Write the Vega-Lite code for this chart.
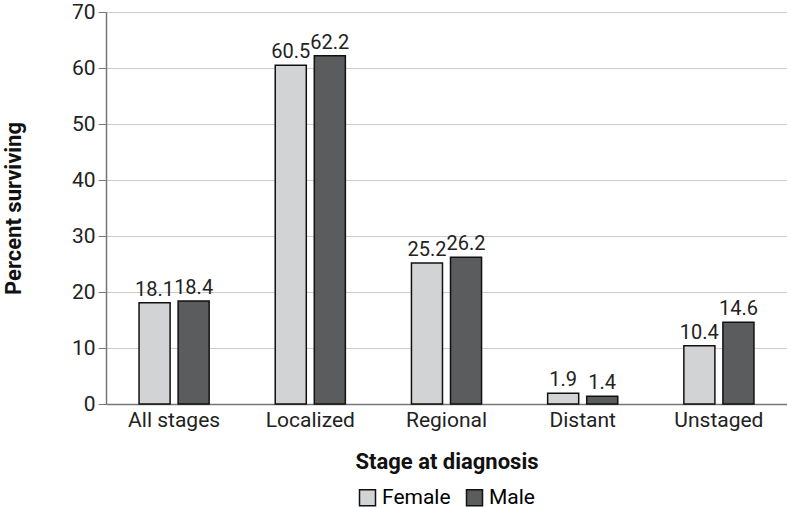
{
  "$schema": "https://vega.github.io/schema/vega-lite/v6.json",
  "autosize": {"type": "none"},
  "padding": {"left": 106, "top": 12, "right": 0, "bottom": 104},
  "width": 681,
  "height": 392,
  "config": {
    "font": "Roboto",
    "view": {"stroke": null},
    "axis": {"labelFont": "Roboto", "titleFont": "Roboto", "labelColor": "#222", "titleColor": "#111"},
    "legend": {"labelFont": "Roboto"}
  },
  "data": {
    "values": [
      {"stage": "All stages", "sex": "Female", "pct": 18.1},
      {"stage": "All stages", "sex": "Male", "pct": 18.4},
      {"stage": "Localized", "sex": "Female", "pct": 60.5},
      {"stage": "Localized", "sex": "Male", "pct": 62.2},
      {"stage": "Regional", "sex": "Female", "pct": 25.2},
      {"stage": "Regional", "sex": "Male", "pct": 26.2},
      {"stage": "Distant", "sex": "Female", "pct": 1.9},
      {"stage": "Distant", "sex": "Male", "pct": 1.4},
      {"stage": "Unstaged", "sex": "Female", "pct": 10.4},
      {"stage": "Unstaged", "sex": "Male", "pct": 14.6}
    ]
  },
  "encoding": {
    "x": {
      "field": "stage", "type": "nominal", "sort": null,
      "scale": {"paddingInner": 0, "paddingOuter": 0},
      "axis": {"labelAngle": 0, "labelFontSize": 21, "labelPadding": 5, "ticks": false, "domainColor": "#777", "domainWidth": 1.5,
               "title": "Stage at diagnosis", "titleFontSize": 22, "titleFontWeight": "bold", "titlePadding": 21}
    },
    "xOffset": {"field": "sex", "type": "nominal", "scale": {"paddingInner": 0.205, "paddingOuter": 0.846}},
    "y": {
      "field": "pct", "type": "quantitative",
      "scale": {"domain": [0, 70]},
      "axis": {"values": [0, 10, 20, 30, 40, 50, 60, 70], "labelFontSize": 21, "tickSize": 8, "tickColor": "#777", "labelPadding": 3,
               "domainColor": "#777", "domainWidth": 1.5, "gridColor": "#cccccc", "gridWidth": 1.2,
               "title": "Percent surviving", "titleFontSize": 22, "titleFontWeight": "bold", "titlePadding": 46}
    }
  },
  "layer": [
    {
      "mark": {"type": "bar", "stroke": "#111", "strokeWidth": 1.5},
      "encoding": {
        "fill": {
          "field": "sex", "type": "nominal",
          "scale": {"domain": ["Female", "Male"], "range": ["#d2d3d4", "#5b5c5e"]},
          "legend": {"title": null, "orient": "none", "legendX": 251, "legendY": 475, "direction": "horizontal", "labelFontSize": 21,
                     "symbolType": "square", "symbolSize": 256, "symbolStrokeColor": "#111", "symbolStrokeWidth": 1.5,
                     "columnPadding": 12, "labelOffset": 4}
        }
      }
    },
    {
      "mark": {"type": "text", "baseline": "bottom", "dy": -3, "fontSize": 20, "color": "#222"},
      "encoding": {"text": {"field": "pct", "type": "quantitative", "format": ".1f"}}
    }
  ]
}
